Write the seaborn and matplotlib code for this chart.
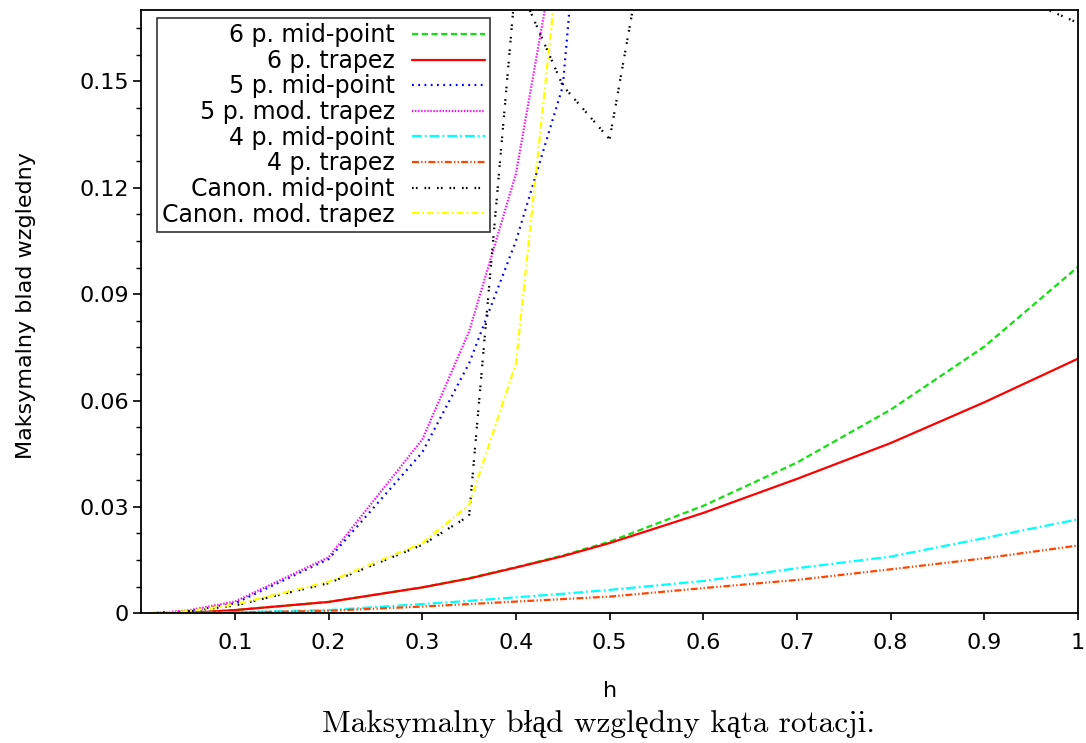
import matplotlib
matplotlib.use("Agg")
import matplotlib.pyplot as plt
import seaborn as sns
import numpy as np
import pandas as pd

# step sizes h
h = [0.01, 0.05, 0.1, 0.2, 0.3, 0.35, 0.4, 0.45, 0.5, 0.6, 0.7, 0.8, 0.9, 1.0]

# maximum relative error of the rotation angle for each scheme
mid6 = [0.0, 0.0001, 0.0009, 0.0032, 0.0073, 0.0099, 0.0130, 0.0163, 0.0202, 0.0303, 0.0425, 0.0574, 0.0752, 0.0977]
trap6 = [0.0, 0.0001, 0.0009, 0.0032, 0.0073, 0.0098, 0.0129, 0.0161, 0.0198, 0.0283, 0.0379, 0.0480, 0.0595, 0.0718]
mid5 = [0.0, 0.0006, 0.0028, 0.0153, 0.0454, 0.0705, 0.1050, 0.1486, 0.30, 0.55, 0.85, 1.2, 1.6, 2.1]
modtrap5 = [0.0, 0.0008, 0.0033, 0.0158, 0.0490, 0.0795, 0.1240, 0.1990, 0.33, 0.60, 0.95, 1.35, 1.8, 2.3]
mid4 = [0.0, 0.0001, 0.0003, 0.0009, 0.0026, 0.0035, 0.0045, 0.0055, 0.0066, 0.0091, 0.0127, 0.0160, 0.0212, 0.0265]
trap4 = [0.0, 0.0001, 0.0002, 0.0007, 0.0019, 0.0026, 0.0033, 0.0040, 0.0047, 0.0071, 0.0094, 0.0124, 0.0155, 0.0191]
canon_mid = [0.0, 0.0005, 0.0022, 0.0085, 0.0193, 0.0275, 0.1790, 0.1488, 0.1337, 0.2820, 0.2600, 0.2200, 0.1780, 0.1665]
canon_modtrap = [0.0, 0.0006, 0.0025, 0.0089, 0.0198, 0.0306, 0.0705, 0.1960, 0.40, 0.70, 1.0, 1.4, 1.9, 2.4]

labels = ["6 p. mid-point", "6 p. trapez", "5 p. mid-point", "5 p. mod. trapez",
          "4 p. mid-point", "4 p. trapez", "Canon. mid-point", "Canon. mod. trapez"]
series = [mid6, trap6, mid5, modtrap5, mid4, trap4, canon_mid, canon_modtrap]
colors = ["#11e011", "#ff0000", "#0000ff", "#ff00ff", "#00ffff", "#ff4500", "#000000", "#ffff00"]
styles = [(0, (4.5, 2.5)), "-", (0, (1.3, 3.2)), (0, (1.0, 1.2)),
          (0, (7.0, 2.2, 1.3, 2.2)), (0, (5.0, 1.6, 1.0, 1.6, 1.0, 1.6)),
          (0, (1.2, 1.6, 1.2, 5.0)), (0, (5.0, 2.2, 1.3, 2.2))]

sns.set_theme(style="white")
plt.rcParams["font.family"] = ["DejaVu Sans"]
plt.rcParams["lines.scale_dashes"] = False
plt.rcParams["text.color"] = "black"
plt.rcParams["axes.labelcolor"] = "black"
plt.rcParams["xtick.color"] = "black"
plt.rcParams["ytick.color"] = "black"

fig = plt.figure(figsize=(10.86, 7.43), dpi=100)
ax = fig.add_axes([0.1301, 0.1746, 0.8625, 0.8113])

for lab, ys, col, ls in zip(labels, series, colors, styles):
    df = pd.DataFrame({"h": h, "err": ys})
    sns.lineplot(data=df, x="h", y="err", ax=ax, color=col, linewidth=1.6,
                 linestyle=ls, label=lab, errorbar=None, sort=False)

ax.set_xlim(0, 1)
ax.set_ylim(0, 0.17)
ax.set_xticks([0.1, 0.2, 0.3, 0.4, 0.5, 0.6, 0.7, 0.8, 0.9, 1.0])
ax.set_xticklabels(["0.1", "0.2", "0.3", "0.4", "0.5", "0.6", "0.7", "0.8", "0.9", "1"])
ax.set_yticks([0, 0.03, 0.06, 0.09, 0.12, 0.15])
ax.set_yticklabels(["0", "0.03", "0.06", "0.09", "0.12", "0.15"])
ax.set_yticks(np.arange(0, 0.1701, 0.0075), minor=True)

for sp in ax.spines.values():
    sp.set_color("black")
    sp.set_linewidth(1.3)

ax.tick_params(axis="x", which="major", direction="out", length=5, width=1.2,
               color="black", labelcolor="black", pad=9, labelsize=16,
               bottom=True, top=False)
ax.tick_params(axis="y", which="major", direction="out", length=6, width=1.2,
               color="black", labelcolor="black", pad=3, labelsize=16,
               left=True, right=False)
ax.tick_params(axis="y", which="minor", direction="out", length=3.5, width=1.0,
               color="black", left=True, right=False)

ax.set_xlabel("h", fontsize=16, color="black")
ax.xaxis.set_label_coords(0.5, -0.112)
ax.set_ylabel("Maksymalny blad wzgledny", fontsize=16, color="black")
ax.yaxis.set_label_coords(-0.1124, 0.51)

leg = ax.legend(loc="upper left", bbox_to_anchor=(0.0168, 0.9876), borderaxespad=0,
                markerfirst=False, fontsize=17, handlelength=3.1, handletextpad=0.72,
                labelspacing=0.07, borderpad=0.22, frameon=True, fancybox=False)
frame = leg.get_frame()
frame.set_edgecolor("black")
frame.set_facecolor("none")
frame.set_linewidth(1.2)
for t in leg.get_texts():
    t.set_color("black")

fig.text(0.5515, 0.0255, "Maksymalny błąd względny kąta rotacji.",
         ha="center", va="center", fontsize=22.5, color="black",
         family=["cmr10", "Liberation Serif"])

fig.savefig("out.png", dpi=100)
